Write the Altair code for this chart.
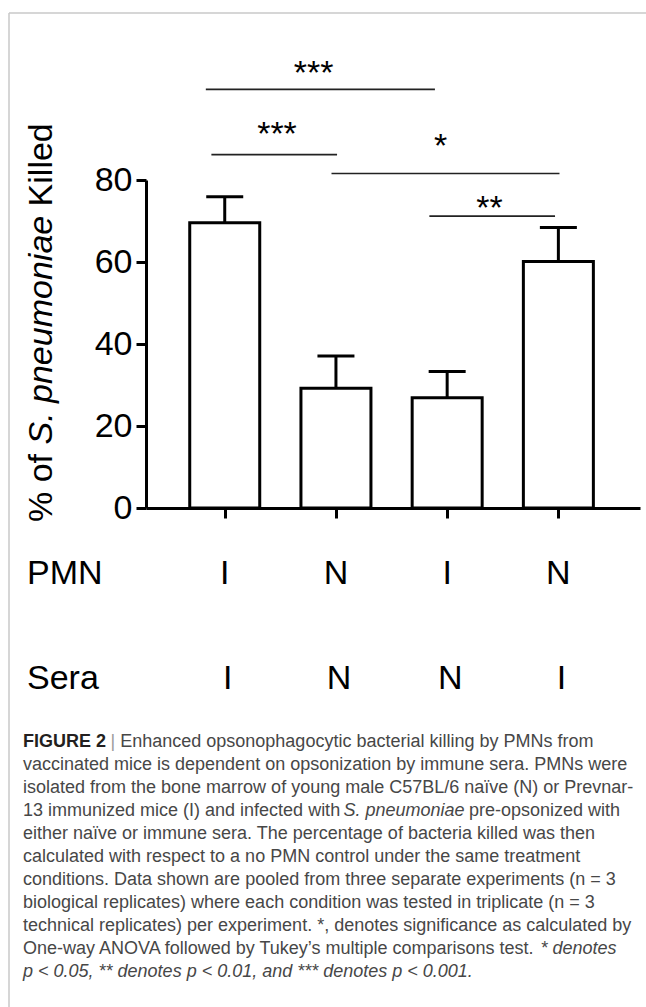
import altair as alt
import pandas as pd

# ------------------------------------------------------------------ data
positions = [1, 2, 3, 4]
pmn = ["I", "N", "I", "N"]
sera = ["I", "N", "N", "I"]
mean_killed = [69.6, 29.2, 26.9, 60.1]
sem_killed = [6.3, 7.9, 6.4, 8.3]
y_ticks = [0, 20, 40, 60, 80]

# significance brackets (x in condition units, y in % killed)
brk_from = [0.83, 0.88, 1.96, 2.84]
brk_to = [2.89, 2.01, 4.01, 3.97]
brk_level = [102.1, 86.2, 81.6, 71.2]
brk_label = ["***", "***", "*", "**"]
brk_label_x = [1.80, 1.47, 2.94, 3.38]
brk_label_y = [103.3, 88.6, 85.6, 70.6]

row_headers = ["PMN", "Sera"]
y_title = [("% of ", "n"), ("S. pneumoniae", "i"), (" Killed", "n")]
caption = [
    [("FIGURE 2", "b"), (" | ", "g"), ("Enhanced opsonophagocytic bacterial killing by PMNs from", "n")],
    [("vaccinated mice is dependent on opsonization by immune sera. PMNs were", "n")],
    [("isolated from the bone marrow of young male C57BL/6 naïve (N) or Prevnar-", "n")],
    [("13 immunized mice (I) and infected with ", "n"), ("S. pneumoniae", "i"), (" pre-opsonized with", "n")],
    [("either naïve or immune sera. The percentage of bacteria killed was then", "n")],
    [("calculated with respect to a no PMN control under the same treatment", "n")],
    [("conditions. Data shown are pooled from three separate experiments (n = 3", "n")],
    [("biological replicates) where each condition was tested in triplicate (n = 3", "n")],
    [("technical replicates) per experiment. *, denotes significance as calculated by", "n")],
    [("One-way ANOVA followed by Tukey’s multiple comparisons test. ", "n"), ("* denotes", "i")],
    [("p < 0.05, ** denotes p < 0.01, and *** denotes p < 0.001.", "i")],
]

# ------------------------------------------------------------------ layout
FONT = "Liberation Sans, Arial, Helvetica, sans-serif"
PAD_L, PAD_T, PLOT_W, PLOT_H = 146, 180, 494, 328
TOTAL_W, TOTAL_H = 646, 1007
X_DOMAIN = [0.337, 4.689]

_chars = " !\"#$%&'()*+,-./0123456789:;<=>?@ABCDEFGHIJKLMNOPQRSTUVWXYZ[\\]^_`abcdefghijklmnopqrstuvwxyz{|}~"
_w = ([278, 278, 355, 556, 556, 889, 667, 191, 333, 333, 389, 584, 278, 333, 278, 278] + [556] * 10
      + [278, 278, 584, 584, 584, 556, 1015]
      + [667, 667, 722, 722, 667, 611, 778, 722, 278, 500, 667, 556, 833, 722, 778, 667, 778, 722, 667,
         611, 722, 667, 944, 667, 667, 611]
      + [278, 278, 278, 469, 556, 333]
      + [556, 556, 500, 556, 556, 278, 556, 556, 222, 222, 500, 222, 833, 556, 556, 556, 556, 333, 500,
         278, 556, 500, 722, 500, 500, 500]
      + [334, 260, 334, 584])
W_REG = dict(zip(_chars, _w))
W_REG.update({"ï": 278, "’": 222})
W_BOLD = {"F": 611, "I": 278, "G": 778, "U": 722, "R": 722, "E": 667, " ": 278, "2": 556}


def text_width(s, size, bold=False, fit=1.0):
    table = W_BOLD if bold else W_REG
    return sum(table.get(c, W_REG.get(c, 556)) for c in s) / 1000.0 * size * fit


def lead_width(s, size, fit=1.0):
    # Vega trims blanks, so leading spaces become an x shift instead
    return text_width(s[: len(s) - len(s.lstrip(" "))], size, fit=fit)


bars_df = pd.DataFrame({"pos": positions, "pmn": pmn, "sera": sera,
                        "mean": mean_killed, "sem": sem_killed})
bars_df["upper"] = bars_df["mean"] + bars_df["sem"]
brk_df = pd.DataFrame({"x1": brk_from, "x2": brk_to, "level": brk_level,
                       "label": brk_label, "lx": brk_label_x, "ly": brk_label_y})

xs = alt.Scale(domain=X_DOMAIN, nice=False, zero=False)
ys = alt.Scale(domain=[0, 80], nice=False, zero=False)
x_axis = alt.Axis(values=positions, labels=False, title=None, grid=False,
                  domainColor="black", domainWidth=3, tickColor="black",
                  tickWidth=3, tickSize=10)
y_axis = alt.Axis(values=y_ticks, title=None, grid=False, domainColor="black",
                  domainWidth=3, tickColor="black", tickWidth=3, tickSize=10,
                  labelFont=FONT, labelFontSize=34, labelColor="black",
                  labelPadding=4)

base = alt.Chart(bars_df)
layers = []

layers.append(base.mark_bar(width=70, fill="white", stroke="black", strokeWidth=3).encode(
    x=alt.X("pos:Q", scale=xs, axis=x_axis),
    y=alt.Y("mean:Q", scale=ys, axis=y_axis),
))
layers.append(base.mark_rule(color="black", strokeWidth=3).encode(
    x=alt.X("pos:Q", scale=xs, axis=x_axis),
    y=alt.Y("mean:Q", scale=ys, axis=y_axis),
    y2="upper:Q",
))
layers.append(base.mark_tick(orient="horizontal", size=37, thickness=3, color="black",
                             opacity=1).encode(
    x=alt.X("pos:Q", scale=xs, axis=x_axis),
    y=alt.Y("upper:Q", scale=ys, axis=y_axis),
))

# x-axis condition rows
layers.append(base.mark_text(font=FONT, fontSize=34, baseline="alphabetic", align="center",
                             color="black").encode(
    x=alt.X("pos:Q", scale=xs, axis=x_axis), y=alt.value(584 - PAD_T), text="pmn:N"))
layers.append(base.mark_text(font=FONT, fontSize=34, baseline="alphabetic", align="center",
                             color="black", dx=3).encode(
    x=alt.X("pos:Q", scale=xs, axis=x_axis), y=alt.value(689 - PAD_T), text="sera:N"))
for header, yb in zip(row_headers, [584, 689]):
    layers.append(alt.Chart(alt.Data(values=[{"t": header}])).mark_text(
        font=FONT, fontSize=34, baseline="alphabetic", align="left", color="black").encode(
        x=alt.value(27 - PAD_L), y=alt.value(yb - PAD_T), text="t:N"))

# significance brackets
layers.append(alt.Chart(brk_df).mark_rule(color="#222222", strokeWidth=1.6).encode(
    x=alt.X("x1:Q", scale=xs, axis=x_axis), x2="x2:Q",
    y=alt.Y("level:Q", scale=ys, axis=y_axis)))
layers.append(alt.Chart(brk_df).mark_text(font=FONT, fontSize=34, baseline="alphabetic",
                                          align="center", color="black").encode(
    x=alt.X("lx:Q", scale=xs, axis=x_axis), y=alt.Y("ly:Q", scale=ys, axis=y_axis),
    text="label:N"))

# rotated y title with italic species name
ty = 522 - PAD_T
for seg, style in y_title:
    layers.append(alt.Chart(alt.Data(values=[{"t": seg.strip()}])).mark_text(
        font=FONT, fontSize=34, angle=270, align="left", baseline="alphabetic",
        color="black", fontStyle="italic" if style == "i" else "normal").encode(
        x=alt.value(51.5 - PAD_L), y=alt.value(ty - lead_width(seg, 34)), text="t:N"))
    ty -= text_width(seg, 34)

# caption
CAP_SIZE = 18
CAP_FIT = 0.995
for i, line in enumerate(caption):
    xpos = 23.0
    yb = 747 + 23 * i
    for seg, style in line:
        kw = dict(font=FONT, fontSize=CAP_SIZE, align="left", baseline="alphabetic",
                  color="#474747")
        if style == "b":
            kw.update(fontWeight="bold", color="#231f20")
        elif style == "i":
            kw.update(fontStyle="italic")
        elif style == "g":
            kw.update(color="#9a9a9a")
        layers.append(alt.Chart(alt.Data(values=[{"t": seg.strip()}])).mark_text(**kw).encode(
            x=alt.value(xpos + lead_width(seg, CAP_SIZE, CAP_FIT) - PAD_L),
            y=alt.value(yb - PAD_T), text="t:N"))
        xpos += text_width(seg, CAP_SIZE, bold=(style == "b"), fit=CAP_FIT)

# light page frame
frame = alt.Data(values=[{}])
layers.append(alt.Chart(frame).mark_rule(color="#c8c8c8", strokeWidth=1.5).encode(
    x=alt.value(9 - PAD_L), x2=alt.value(TOTAL_W - PAD_L), y=alt.value(13 - PAD_T)))
layers.append(alt.Chart(frame).mark_rule(color="#c8c8c8", strokeWidth=1.5).encode(
    x=alt.value(9 - PAD_L), y=alt.value(13 - PAD_T), y2=alt.value(TOTAL_H - PAD_T)))

chart = alt.layer(*layers).properties(
    width=PLOT_W, height=PLOT_H,
    padding={"left": PAD_L, "top": PAD_T, "right": TOTAL_W - PAD_L - PLOT_W,
             "bottom": TOTAL_H - PAD_T - PLOT_H},
    autosize=alt.AutoSizeParams(type="none"),
).configure(background="white").configure_view(stroke=None)

chart.save("out.html", embed_options={"renderer": "svg", "actions": False})
